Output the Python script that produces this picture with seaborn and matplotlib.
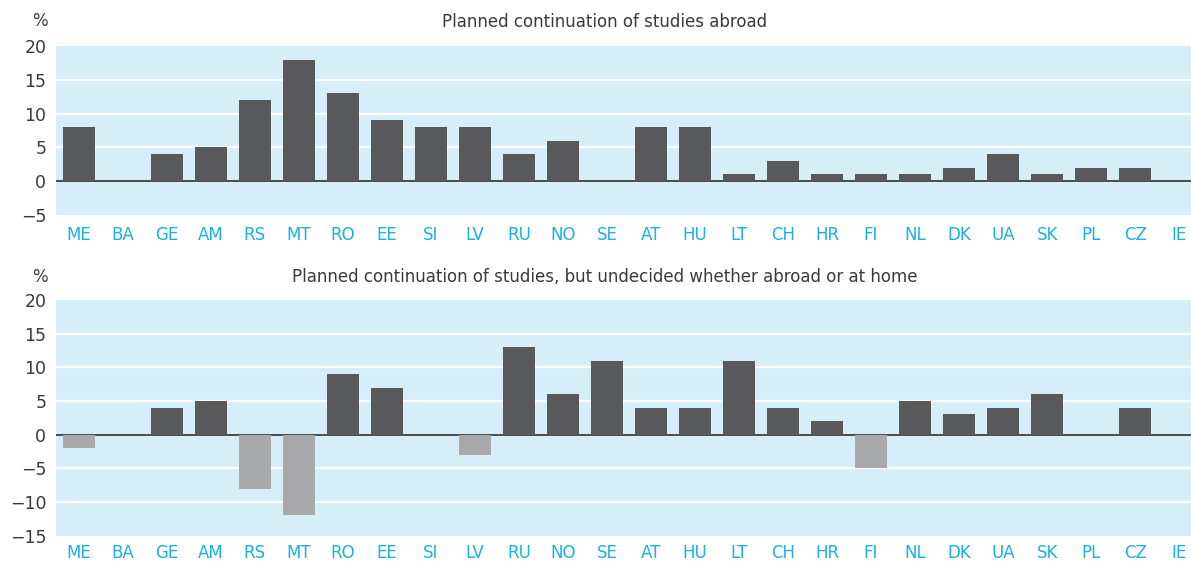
import matplotlib
matplotlib.use("Agg")
import matplotlib.pyplot as plt
import seaborn as sns
import pandas as pd

countries = ["ME", "BA", "GE", "AM", "RS", "MT", "RO", "EE", "SI", "LV", "RU", "NO", "SE",
             "AT", "HU", "LT", "CH", "HR", "FI", "NL", "DK", "UA", "SK", "PL", "CZ", "IE"]
abroad = [8, 0, 4, 5, 12, 18, 13, 9, 8, 8, 4, 6, 0, 8, 8, 1, 3, 1, 1, 1, 2, 4, 1, 2, 2, 0]
undecided = [-2, 0, 4, 5, -8, -12, 9, 7, 0, -3, 13, 6, 11, 4, 4, 11, 4, 2, -5, 5, 3, 4, 6, 0, 4, 0]

title_top = "Planned continuation of studies abroad"
title_bottom = "Planned continuation of studies, but undecided whether abroad or at home"

POS = "#58595b"
NEG = "#a7a9ac"
BG = "#d6eef7"
TICK_BLUE = "#1bb0e3"
TEXT = "#3a3a3a"

sns.set_style("white")
plt.rcParams["font.family"] = ["DejaVu Sans"]

fig = plt.figure(figsize=(11.91, 5.62), dpi=100)
W, H = 1191, 562


def panel(top_px, bottom_px, values, ylim, yticks, title, title_y, pct_y, xpad):
    ax = fig.add_axes([56 / W, 1 - bottom_px / H, 1 - 56 / W, (bottom_px - top_px) / H])
    df = pd.DataFrame({"country": countries, "value": values})
    df["sign"] = ["neg" if v < 0 else "pos" for v in values]
    sns.barplot(data=df, x="country", y="value", hue="sign",
                palette={"pos": POS, "neg": NEG}, dodge=False, width=0.727,
                legend=False, ax=ax, zorder=3, linewidth=0)
    ax.set_facecolor(BG)
    ax.set_ylim(*ylim)
    ax.set_xlim(-0.52, len(countries) - 0.73)
    ax.set_yticks(yticks)
    ax.set_yticklabels([f"\u2212{abs(t)}" if t < 0 else str(t) for t in yticks])
    for t in yticks:
        if t not in (ylim[0], ylim[1], 0):
            ax.axhline(t, color="white", lw=1.6, zorder=1)
    ax.axhline(0, color="#4a4a4a", lw=1.4, zorder=2)
    for s in ax.spines.values():
        s.set_visible(False)
    ax.set_xlabel("")
    ax.set_ylabel("")
    ax.tick_params(axis="x", length=0, pad=xpad, labelsize=12, labelcolor=TICK_BLUE)
    ax.tick_params(axis="y", length=0, pad=7, labelsize=12.5, labelcolor=TEXT)
    fig.text(605 / W, 1 - title_y / H, title, ha="center", va="center",
             fontsize=12, color=TEXT)
    fig.text(40 / W, 1 - pct_y / H, "%", ha="center", va="center",
             fontsize=12, color=TEXT)
    return ax


panel(46, 215, abroad, (-5, 20), [-5, 0, 5, 10, 15, 20], title_top, 22, 21, 8)
panel(300, 535.7, undecided, (-15, 20), [-15, -10, -5, 0, 5, 10, 15, 20],
      title_bottom, 277, 277, 6)

fig.savefig("out.png", dpi=100)
